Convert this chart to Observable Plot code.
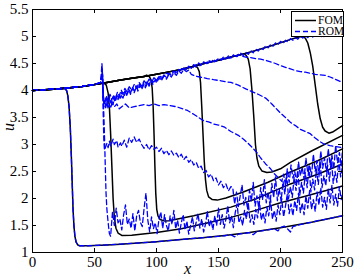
<!DOCTYPE html>
<html><head><meta charset="utf-8">
<script src="https://cdn.jsdelivr.net/npm/d3@7"></script>
<script src="https://cdn.jsdelivr.net/npm/@observablehq/plot@0.6"></script>
<style>
body{margin:0;background:#fff;}
#wrap{position:relative;width:354px;height:278px;}
#legend{position:absolute;left:291px;top:11px;width:53px;height:26px;border:1px solid #000;background:#fff;box-sizing:border-box;font-family:"Liberation Serif",serif;font-size:11.5px;}
#legend .row{position:absolute;left:2px;height:11px;line-height:11px;}
#legend svg{position:absolute;left:0;top:0;}
#legend span{position:absolute;left:24px;top:0;white-space:nowrap;}
</style></head><body><div id="wrap"></div>
<script>
// ---- data ----
const xTicks = [0, 50, 100, 150, 200, 250];
const yTicks = [1, 1.5, 2, 2.5, 3, 3.5, 4, 4.5, 5, 5.5];
const legendLabels = ["FOM", "ROM"];

// upstream (pre-shock) branch shared by the FOM snapshots
const envX = [0,10,20,30,40,50,56,60,70,80,90,100,110,120,130,140,150,160,170,180,190,200,210,215,219];
const envU = [4.0,4.015,4.03,4.05,4.075,4.11,4.135,4.15,4.19,4.225,4.26,4.30,4.345,4.39,4.45,4.51,4.56,4.62,4.675,4.74,4.81,4.885,4.96,4.99,5.0];

// FOM snapshots: shock + downstream branch
const fom1X = [24,26,27.5,28.5,29.5,30.5,31.3,32,32.7,33.4,34.2,35.2,36.5,38,45,60,71,85,100,117,135,155,175,200,225,250];
const fom1U = [4.04,4.035,4.0,3.9,3.7,3.3,2.8,2.3,1.8,1.5,1.3,1.19,1.14,1.125,1.125,1.14,1.155,1.175,1.2,1.235,1.27,1.315,1.37,1.46,1.56,1.68];
const fom2X = [57.5,59.5,61,62,63,64,65,66,67.3,69,72,80,100,120,140,160,180,200,220,250];
const fom2U = [4.14,4.1,3.95,3.7,3.2,2.6,2.0,1.65,1.45,1.36,1.315,1.32,1.37,1.44,1.54,1.65,1.78,1.92,2.04,2.23];
const fom3X = [92,94,95.5,96.5,97.3,98,98.7,99.4,100.2,101.2,103,106,110,130,160,180,208,230,250];
const fom3U = [4.285,4.265,4.2,4.05,3.7,3.2,2.6,2.1,1.8,1.68,1.61,1.585,1.59,1.68,1.84,1.99,2.27,2.45,2.64];
const fom4X = [131,133,134.5,135.5,136.5,137.5,138.5,139.5,140.5,142,145,149,156,170,190,208,230,250];
const fom4U = [4.45,4.43,4.35,4.15,3.7,3.2,2.7,2.35,2.15,2.03,1.98,1.97,2.01,2.12,2.3,2.49,2.7,2.92];
const fom5X = [170,172,174,175.5,177,178.5,179.8,181,182.5,185,189,193,200,208,225,250];
const fom5U = [4.675,4.66,4.58,4.4,4.0,3.5,3.0,2.75,2.6,2.51,2.48,2.49,2.55,2.67,2.88,3.17];
const fom6X = [218,220,222,224,226,228,230,232,234,236,239,242,246,250];
const fom6U = [5.0,4.97,4.88,4.7,4.45,4.1,3.75,3.48,3.32,3.25,3.21,3.23,3.29,3.35];

// ROM snapshots
const rom1X = [0,10,20,24,26,27.5,28.5,29.5,30.5,31.3,32,32.7,33.4,34.2,35.2,36.5,38,45,60,71,85,100,105,110,115,120,125,130,135,140,145,150,155,160,163,166,170,175,178,181,185,190,195,198,200,203,206,208,210,215,220,225,230,235,240,245,250];
const rom1U = [4.0,4.015,4.03,4.04,4.035,4.0,3.9,3.7,3.3,2.8,2.3,1.8,1.5,1.3,1.19,1.14,1.125,1.125,1.14,1.155,1.175,1.2,1.21,1.22,1.23,1.24,1.25,1.26,1.27,1.28,1.29,1.3,1.31,1.33,1.29,1.34,1.35,1.37,1.33,1.39,1.4,1.42,1.44,1.4,1.46,1.49,1.43,1.38,1.48,1.51,1.54,1.56,1.59,1.61,1.63,1.66,1.68];
const romHeadX = [0,10,20,30,40,50];
const romHeadU = [4.0,4.015,4.03,4.05,4.075,4.11];
const rom2X = [55,56,56.7,57.3,58,58.7,59.3,60,61,62,63,
  64.5,66,67.5,69,70.5,72,73.5,75,76.5,78,79.5,81,82.5,84,85.5,87,88.5,90,91.5,93,94.5,96,97.5,99,100.5,102,103.5,105,106.5,108,109.5,111,112.5,114,115.5,117,118.5,120,121.5,123,124.5,126,127.5,129,130.5,132,133.5,135,136.5,138,139.5,141,142.5,144,145.5,147,148.5,150,151.5,153,154.5,156,157.5,159,160.5,162,163.5,165,166.5,168,169.5,171,172.5,174,175.5,177,178.5,180,181.5,183,184.5,186,187.5,189,190.5,192,193.5,195,196.5,198,199.5,201,202.5,204,205.5,207,208.5,210,211.5,213,214.5,216,217.5,219,220.5,222,223.5,225,226.5,228,229.5,231,232.5,234,235.5,237,238.5,240,241.5,243,244.5,246,247.5,249,250];
const rom2U = [4.15,4.5,4.2,3.7,3.2,2.6,2.1,1.8,1.55,1.35,1.3,
  1.75,1.5,1.82,1.55,1.62,1.42,1.7,1.88,1.52,1.62,1.45,1.72,1.4,1.68,1.78,1.56,1.48,1.82,2.1,1.6,
  1.38,1.66,1.44,1.55,1.35,1.62,1.75,1.45,1.7,1.5,1.4,1.68,1.52,1.78,1.44,1.6,1.36,1.55,1.7,1.42,1.58,1.34,1.5,1.66,1.4,1.56,1.72,1.45,1.62,1.38,1.52,1.76,1.48,1.6,1.42,1.68,1.5,1.82,
  1.52,1.7,1.45,1.62,1.86,1.55,1.68,1.46,1.74,1.9,1.55,1.66,1.5,1.78,1.62,1.92,1.56,1.7,1.52,1.8,1.64,1.95,1.6,1.74,1.55,1.84,1.68,1.98,1.62,1.78,1.58,1.88,1.7,
  2.0,1.66,1.86,2.08,1.72,1.9,1.68,1.96,1.78,2.1,1.74,1.92,1.7,2.05,1.82,2.15,1.8,1.98,1.76,2.12,1.88,2.2,1.84,2.02,1.8,2.18,1.92,2.25,1.88,2.08,1.86,2.22,1.98,2.1];
const rom3X = [55,56.3,57,57.5,58,60,61,62,63,65,66,68,69,71,72,74,76,78,80,82,84,86,88,90,92,94,96,98,100,102,104,106,108,110,112,114,116,118,120,122,124,126,128,130,132,134,136,138,140,142,144,146,148,150,152,154,156,158,160,
  161.5,163,164.5,166,167.5,169,170.5,172,173.5,175,176.5,178,179.5,181,182.5,184,185.5,187,188.5,190,191.5,193,194.5,196,197.5,199,200.5,202,203.5,205,206.5,208,209.5,211,212.5,214,215.5,217,218.5,220,221.5,223,224.5,226,227.5,229,230.5,232,233.5,235,236.5,238,239.5,241,242.5,244,245.5,247,248.5,250];
const rom3U = [4.15,4.35,3.6,3.1,2.9,3.02,2.94,3.06,2.97,3.1,3.0,3.07,2.95,3.03,2.97,
  3.08,2.95,3.12,3.04,3.14,3.04,3.1,3.0,2.93,3.0,2.9,2.98,2.91,2.95,2.87,2.93,2.83,2.89,2.81,2.88,2.8,2.84,2.76,2.82,2.72,2.78,2.67,2.72,2.62,2.67,2.56,2.6,2.48,2.52,2.4,2.45,2.33,2.38,2.25,2.32,2.2,2.27,2.14,2.22,
  2.2,1.9,2.12,1.85,2.05,2.25,1.88,2.02,1.8,2.15,1.95,2.3,1.86,2.05,1.82,2.2,1.98,2.35,1.92,2.12,1.88,2.28,2.02,2.4,1.96,2.18,1.95,2.32,2.08,2.45,2.0,2.22,2.02,2.4,2.15,2.52,2.06,2.3,2.1,2.48,2.2,2.6,2.12,2.36,2.16,2.55,2.26,2.68,2.2,2.42,2.24,2.62,2.32,2.75,2.28,2.5,2.3,2.72,2.4,2.6];
const rom4X = [55,56.3,57,57.5,59,60,61,62,63,64,66,68,70,72,75,78,82,86,90,94,98,102,106,111,116,120,125,130,134,138,142,146,150,155,160,166,170,174,177,181,184,188,192,195,198,201,
  202.5,204,205.5,207,208.5,210,211.5,213,214.5,216,217.5,219,220.5,222,223.5,225,226.5,228,229.5,231,232.5,234,235.5,237,238.5,240,241.5,243,244.5,246,247.5,249,250];
const rom4U = [4.15,4.4,4.0,3.75,3.68,3.78,3.66,3.74,3.67,3.76,3.7,3.75,3.66,3.7,3.75,3.68,3.7,3.72,3.74,3.72,3.75,3.72,3.74,3.72,3.7,3.67,3.63,3.56,3.5,3.44,3.42,3.38,3.36,3.32,3.24,3.17,3.1,3.02,2.95,2.85,2.75,2.64,2.55,2.46,2.39,2.32,
  2.45,2.25,2.55,2.3,2.62,2.38,2.5,2.3,2.68,2.42,2.58,2.36,2.75,2.48,2.62,2.42,2.82,2.5,2.7,2.46,2.88,2.56,2.75,2.5,2.92,2.62,2.8,2.55,2.98,2.66,2.85,2.6,2.9];
const rom5X = [55,56.3,57,57.6,59,60,61,62,63,64,65,66,67,68,69,70,71,72,74,75,76,78,79,81,82,84,85,87,88,90,91,93,94,96,97,99,100,102,104,106,108,110,112,114,116,118,120,122,124,126,128,131,135,141,146,152,156,160,166,172,177,182,188,193,198,201,204,208,212,216,220,224,228,232,235,240,245,250];
const rom5U = [4.15,4.35,3.95,3.8,3.72,3.84,3.76,3.88,3.79,3.85,3.74,3.88,3.8,3.91,3.83,3.94,3.86,3.97,3.89,3.99,3.91,4.02,3.93,4.05,3.96,4.08,3.99,4.1,4.02,4.12,4.05,4.15,4.08,4.18,4.11,4.2,4.14,4.23,4.18,4.27,4.21,4.3,4.25,4.33,4.28,4.36,4.32,4.39,4.35,4.38,4.3,4.27,4.25,4.22,4.2,4.18,4.16,4.15,4.1,4.03,3.98,3.93,3.86,3.75,3.63,3.56,3.5,3.41,3.35,3.28,3.24,3.2,3.12,3.05,3.01,2.98,2.96,2.94];
const rom6X = [55,56.3,57,58,59.5,60.5,62,63.5,65,66.5,68,69.5,71,73,74.5,76,77.5,79,80.5,82,83.5,85,86.5,88,89.5,91,92.5,94,95.5,97,98.5,100,102,104,106,108,110,112,114,116,118,120,122,124,126,128,130,132,134,136,138,140,142,144,146,148,150,152,154,156,158,160,162,164,166,168,172,176,180,184,188,192,196,200,204,208,212,216,220,224,228,232,236,240,244,248,250];
const rom6U = [4.15,4.3,3.9,3.76,3.87,3.74,3.84,3.76,3.88,3.79,3.93,3.85,3.92,3.86,3.99,3.92,4.03,3.95,4.06,3.99,4.09,4.02,4.12,4.05,4.14,4.08,4.17,4.1,4.2,4.14,4.23,4.18,4.26,4.21,4.29,4.24,4.32,4.28,4.36,4.31,4.39,4.36,4.42,4.39,4.45,4.41,4.48,4.44,4.51,4.47,4.53,4.5,4.56,4.52,4.58,4.54,4.6,4.56,4.62,4.58,4.64,4.6,4.66,4.62,4.67,4.64,4.62,4.61,4.59,4.58,4.56,4.53,4.5,4.46,4.43,4.4,4.37,4.35,4.34,4.32,4.3,4.29,4.28,4.25,4.21,4.17,4.15];
const rom7X = [55,56.3,57,58.5,59.5,61,62.5,64,65.5,67,68.5,70,71.5,73,74.5,76,78,80,82,84,86,88,90,92,94,96,98,100,102,105,108,111,114,117,120,123,126,129,132,135,138,141,144,147,150,153,156,159,162,165,168,170,172,174,176,178,180,182,184,186,188,190,192,194,196,198,200,202,204,206,208,210,212,214,216,218,220,222,224,226,228,230,232,234,236];
const rom7U = [4.15,4.3,3.85,3.79,3.9,3.81,3.93,3.84,3.9,3.86,3.97,3.9,4.01,3.94,4.04,3.98,4.07,4.01,4.11,4.04,4.15,4.08,4.18,4.12,4.21,4.15,4.24,4.18,4.27,4.24,4.32,4.3,4.36,4.33,4.4,4.38,4.44,4.42,4.48,4.46,4.52,4.5,4.55,4.53,4.59,4.57,4.62,4.6,4.65,4.63,4.69,4.65,4.71,4.67,4.74,4.7,4.77,4.73,4.79,4.76,4.83,4.79,4.85,4.82,4.88,4.85,4.91,4.87,4.93,4.9,4.96,4.93,4.98,4.95,5.01,4.97,5.02,4.98,5.03,4.99,5.04,5.0,5.03,4.98,5.02];

// ---- build tables ----
function pairs(xs, us) {
  const n = Math.min(xs.length, us.length);
  const out = [];
  for (let i = 0; i < n; i++) out.push({x: xs[i], u: us[i]});
  return out;
}
function withEnvelope(xs, us) {
  const head = pairs(envX, envU).filter(d => d.x < xs[0]);
  return head.concat(pairs(xs, us));
}
const fomRows = [];
[[fom1X,fom1U],[fom2X,fom2U],[fom3X,fom3U],[fom4X,fom4U],[fom5X,fom5U],[fom6X,fom6U]].forEach(([xs,us],k) => {
  withEnvelope(xs, us).forEach(d => fomRows.push({...d, id: "F"+k}));
});
const romRows = [];
pairs(rom1X, rom1U).forEach(d => romRows.push({...d, id: "R1"}));
[[rom2X,rom2U],[rom3X,rom3U],[rom4X,rom4U],[rom5X,rom5U],[rom6X,rom6U],[rom7X,rom7U]].forEach(([xs,us],k) => {
  pairs(romHeadX, romHeadU).concat(pairs(xs, us)).forEach(d => romRows.push({...d, id: "R"+(k+2)}));
});

const W = 354, H = 278;
const mL = 32, mR = 12, mT = 9, mB = 26;
const innerW = W - mL - mR, innerH = H - mT - mB;
const font = '"Liberation Serif", "DejaVu Serif", serif';
const dash = "5,3";

const chart = Plot.plot({
  width: W, height: H,
  marginLeft: mL, marginRight: mR, marginTop: mT, marginBottom: mB,
  style: {fontFamily: font, fontSize: "15px", background: "white", color: "black"},
  x: {domain: [0, 250]},
  y: {domain: [1, 5.5]},
  marks: [
    Plot.line(fomRows, {x: "x", y: "u", z: "id", stroke: "black", strokeWidth: 1.5}),
    Plot.line(romRows, {x: "x", y: "u", z: "id", stroke: "#0000ff", strokeWidth: 1.3, strokeDasharray: dash}),
    Plot.frame({stroke: "black", strokeWidth: 1}),
    Plot.tickX(xTicks, {x: d => d, insetTop: innerH - 4, stroke: "black"}),
    Plot.tickX(xTicks, {x: d => d, insetBottom: innerH - 4, stroke: "black"}),
    Plot.tickY(yTicks, {y: d => d, insetRight: innerW - 4, stroke: "black"}),
    Plot.tickY(yTicks, {y: d => d, insetLeft: innerW - 4, stroke: "black"}),
    Plot.axisX({ticks: xTicks, tickSize: 0, tickPadding: 4, label: null, tickFormat: d => String(d)}),
    Plot.axisY({ticks: yTicks, tickSize: 0, tickPadding: 4, label: null, tickFormat: d => String(d)}),
    Plot.text(["x"], {frameAnchor: "bottom", dy: 21, text: d => d, fontStyle: "italic", fontSize: 16}),
    Plot.text(["u"], {frameAnchor: "left", dx: -24, text: d => d, rotate: -90, fontStyle: "italic", fontSize: 16})
  ]
});
const wrap = document.getElementById("wrap");
wrap.appendChild(chart);

// legend
const lg = document.createElement("div");
lg.id = "legend";
legendLabels.forEach((lab, i) => {
  const row = document.createElement("div");
  row.className = "row";
  row.style.top = (3 + i * 11) + "px";
  const dashed = i === 1;
  row.innerHTML = `<svg width="24" height="11"><line x1="1" x2="22" y1="5.5" y2="5.5" stroke="${dashed ? "#0000ff" : "black"}" stroke-width="1.5" ${dashed ? `stroke-dasharray="${dash}"` : ""}/></svg><span>${lab}</span>`;
  lg.appendChild(row);
});
wrap.appendChild(lg);
</script></body></html>
